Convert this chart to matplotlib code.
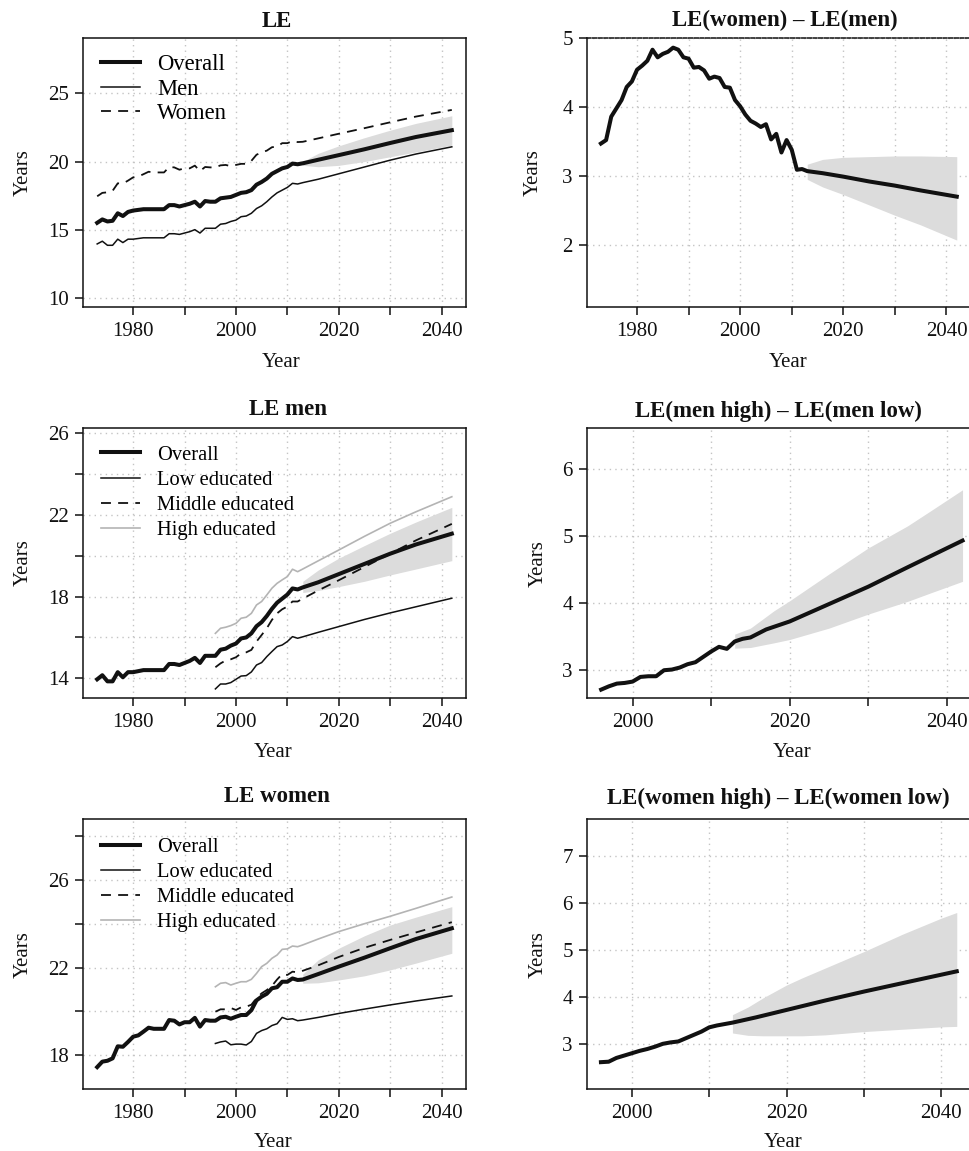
import matplotlib
matplotlib.use("Agg")
import matplotlib.pyplot as plt

plt.rcParams["font.family"] = ["Liberation Serif", "DejaVu Serif"]

# ---------------- data ----------------
years_hist = list(range(1973, 2013))
years_edu = list(range(1996, 2013))
years_proj = [2013, 2016, 2020, 2025, 2030, 2035, 2042]

# LE overall / men / women, 1973-2012
le_all_hist = [15.5, 15.75, 15.6, 15.65, 16.2, 16.0, 16.3, 16.4, 16.45, 16.5,
               16.5, 16.5, 16.5, 16.5, 16.8, 16.8, 16.7, 16.8, 16.9, 17.05,
               16.7, 17.1, 17.05, 17.05, 17.3, 17.35, 17.4, 17.55, 17.7, 17.75,
               17.9, 18.3, 18.5, 18.75, 19.1, 19.3, 19.5, 19.6, 19.85, 19.8]
le_men_hist = [13.95, 14.15, 13.85, 13.85, 14.3, 14.05, 14.3, 14.3, 14.35, 14.4,
               14.4, 14.4, 14.4, 14.4, 14.7, 14.7, 14.65, 14.75, 14.85, 15.0,
               14.75, 15.1, 15.1, 15.1, 15.4, 15.45, 15.6, 15.7, 15.95, 16.0,
               16.2, 16.55, 16.75, 17.05, 17.4, 17.7, 17.9, 18.1, 18.4, 18.35]
le_women_hist = [17.45, 17.7, 17.74, 17.85, 18.4, 18.38, 18.6, 18.84, 18.9, 19.07,
                 19.25, 19.2, 19.2, 19.2, 19.6, 19.57, 19.4, 19.5, 19.5, 19.7,
                 19.3, 19.6, 19.57, 19.57, 19.72, 19.75, 19.66, 19.75, 19.83, 19.83,
                 20.05, 20.5, 20.67, 20.8, 21.05, 21.1, 21.35, 21.35, 21.5, 21.43]

# projections 2013-2042
le_all_proj = [19.87, 20.13, 20.47, 20.9, 21.36, 21.8, 22.3]
le_all_lo = [19.72, 19.62, 19.72, 20.0, 20.35, 20.7, 21.2]
le_all_hi = [20.0, 20.6, 21.15, 21.75, 22.3, 22.8, 23.36]
le_men_proj = [18.45, 18.7, 19.1, 19.6, 20.1, 20.55, 21.08]
le_men_lo = [18.2, 18.3, 18.49, 18.75, 19.06, 19.35, 19.76]
le_men_hi = [18.75, 19.3, 19.88, 20.5, 21.1, 21.65, 22.37]
le_women_proj = [21.45, 21.7, 22.04, 22.45, 22.88, 23.3, 23.79]
le_women_lo = [21.28, 21.3, 21.43, 21.62, 21.89, 22.2, 22.65]
le_women_hi = [21.7, 22.35, 22.88, 23.45, 23.94, 24.3, 24.78]

# LE(women) - LE(men)
gap_sex_hist = [3.47, 3.52, 3.86, 3.98, 4.1, 4.29, 4.37, 4.54, 4.6, 4.67,
                4.83, 4.72, 4.77, 4.8, 4.86, 4.83, 4.72, 4.7, 4.57, 4.58,
                4.53, 4.41, 4.44, 4.42, 4.29, 4.28, 4.1, 4.01, 3.89, 3.8,
                3.76, 3.71, 3.75, 3.53, 3.61, 3.34, 3.52, 3.38, 3.09, 3.1]
gap_sex_proj = [3.07, 3.04, 2.99, 2.92, 2.86, 2.79, 2.7]
gap_sex_lo = [2.95, 2.84, 2.73, 2.58, 2.43, 2.29, 2.07]
gap_sex_hi = [3.17, 3.24, 3.27, 3.28, 3.29, 3.29, 3.28]

# men by education, 1996-2012
men_low_hist = [13.48, 13.72, 13.72, 13.79, 13.95, 14.11, 14.13, 14.31, 14.65,
                14.77, 15.06, 15.31, 15.55, 15.63, 15.8, 16.04, 15.96]
men_mid_hist = [14.54, 14.73, 14.87, 14.93, 15.03, 15.22, 15.27, 15.39, 15.8,
                16.12, 16.45, 16.86, 17.18, 17.38, 17.51, 17.76, 17.76]
men_high_hist = [16.2, 16.45, 16.5, 16.58, 16.69, 16.94, 16.99, 17.18, 17.59,
                 17.76, 18.08, 18.41, 18.65, 18.82, 18.98, 19.34, 19.22]
men_low_proj = [16.03, 16.25, 16.53, 16.88, 17.2, 17.5, 17.92]
men_mid_proj = [17.9, 18.3, 18.8, 19.45, 20.1, 20.75, 21.56]
men_high_proj = [19.35, 19.75, 20.28, 20.95, 21.59, 22.15, 22.89]

# women by education, 1996-2012
women_low_hist = [18.53, 18.6, 18.64, 18.47, 18.5, 18.5, 18.46, 18.62, 18.99,
                  19.12, 19.2, 19.35, 19.43, 19.72, 19.63, 19.66, 19.57]
women_mid_hist = [19.98, 20.09, 20.09, 20.15, 20.06, 20.18, 20.21, 20.3, 20.6,
                  20.82, 20.97, 21.16, 21.45, 21.7, 21.66, 21.81, 21.78]
women_high_hist = [21.12, 21.28, 21.31, 21.2, 21.28, 21.35, 21.35, 21.46, 21.73,
                   22.04, 22.19, 22.42, 22.57, 22.83, 22.85, 22.98, 22.95]
women_low_proj = [19.6, 19.72, 19.9, 20.1, 20.29, 20.47, 20.7]
women_mid_proj = [21.85, 22.1, 22.48, 22.9, 23.26, 23.6, 24.07]
women_high_proj = [23.03, 23.3, 23.64, 24.0, 24.34, 24.7, 25.22]

# LE(men high) - LE(men low)
gap_men_years = list(range(1996, 2019)) + [2020, 2025, 2030, 2035, 2042]
gap_men = [2.70, 2.75, 2.79, 2.80, 2.82, 2.89, 2.90, 2.90, 2.99, 3.00, 3.03,
           3.08, 3.11, 3.19, 3.27, 3.34, 3.31, 3.42, 3.46, 3.48, 3.54, 3.60,
           3.64, 3.72, 3.98, 4.24, 4.53, 4.93]
gap_men_band_years = [2013, 2015, 2018, 2020, 2025, 2030, 2035, 2038, 2042]
gap_men_lo = [3.32, 3.33, 3.40, 3.45, 3.62, 3.83, 4.02, 4.15, 4.32]
gap_men_hi = [3.53, 3.62, 3.88, 4.03, 4.43, 4.82, 5.15, 5.38, 5.69]

# LE(women high) - LE(women low)
gap_women_hist = [2.61, 2.62, 2.70, 2.75, 2.80, 2.85, 2.89, 2.94, 3.00, 3.03,
                  3.05, 3.12, 3.19, 3.26, 3.35, 3.39, 3.42]
gap_women_proj = [3.45, 3.56, 3.72, 3.92, 4.11, 4.29, 4.54]
gap_women_band_years = [2013, 2015, 2017, 2020, 2022, 2025, 2030, 2035, 2040, 2042]
gap_women_lo = [3.23, 3.18, 3.17, 3.17, 3.17, 3.19, 3.26, 3.31, 3.36, 3.37]
gap_women_hi = [3.62, 3.78, 3.98, 4.25, 4.4, 4.61, 4.96, 5.33, 5.67, 5.79]

# ---------------- styles ----------------
BAND = "#dcdcdc"
GREY = "#b4b4b4"
GRID = "#c4c4c4"
INK = "#111111"
THICK = 2.9
THIN = 1.1
DASH = (0, (5.5, 4))
FS = 15
FS_TITLE = 16.5

W, H = 969, 1151
fig = plt.figure(figsize=(W / 100, H / 100), dpi=100)


def add_axes(left, top, right, bottom):
    return fig.add_axes([left / W, 1 - bottom / H, (right - left) / W, (bottom - top) / H])


def style(ax, xlim, ylim, xticks, xlabels, yticks, ylabels,
          title, tx, ty, xl, yl_x, xl_y):
    ax.set_xlim(xlim)
    ax.set_ylim(ylim)
    ax.set_xticks(xticks)
    ax.set_xticklabels(xlabels)
    ax.set_yticks(yticks)
    ax.set_yticklabels(ylabels)
    ax.grid(True, color=GRID, linestyle=(0, (1, 3)), linewidth=1.0)
    ax.set_axisbelow(True)
    ax.tick_params(direction="out", length=6, width=1.1, labelsize=FS, colors=INK)
    ax.tick_params(axis="x", pad=4.5)
    ax.tick_params(axis="y", pad=4)
    for s in ax.spines.values():
        s.set_linewidth(1.1)
        s.set_color(INK)
    ax.text(tx, ty, title, transform=ax.transAxes, ha="center", va="baseline",
            fontsize=FS_TITLE, fontweight="bold", color=INK)
    ax.set_xlabel("Year", fontsize=FS, color=INK)
    ax.set_ylabel("Years", fontsize=FS, color=INK)
    ax.xaxis.set_label_coords(xl, xl_y)
    ax.yaxis.set_label_coords(yl_x, 0.5)


dec_full = [1980, 1990, 2000, 2010, 2020, 2030, 2040]
dec_full_lab = ["1980", "", "2000", "", "2020", "", "2040"]
dec_edu = [2000, 2010, 2020, 2030, 2040]
dec_edu_lab = ["2000", "", "2020", "", "2040"]

# ---------------- panel 1: LE ----------------
ax1 = add_axes(83, 38, 466, 307)
ax1.fill_between(years_proj, le_all_lo, le_all_hi, color=BAND, lw=0)
l_all, = ax1.plot(years_hist + years_proj, le_all_hist + le_all_proj, color=INK, lw=THICK)
l_men, = ax1.plot(years_hist + years_proj, le_men_hist + le_men_proj, color=INK, lw=THIN)
l_wom, = ax1.plot(years_hist + years_proj, le_women_hist + le_women_proj, color=INK,
                  lw=1.3, linestyle=DASH)
style(ax1, (1970.24, 2044.76), (9.32, 29.07), dec_full, dec_full_lab,
      [10, 15, 20, 25], ["10", "15", "20", "25"],
      "LE", 0.5065, 1.041, 0.516, -0.132, -0.172)
ax1.legend([l_all, l_men, l_wom], ["Overall", "Men", "Women"], loc="upper left",
           bbox_to_anchor=(0.047, 0.94), frameon=False, fontsize=16.3,
           borderpad=0, borderaxespad=0, handlelength=1.73, handletextpad=0.75,
           labelspacing=0.16)

# ---------------- panel 2: LE(women) - LE(men) ----------------
ax2 = add_axes(586.7, 38, 971, 307)
ax2.fill_between(years_proj, gap_sex_lo, gap_sex_hi, color=BAND, lw=0)
ax2.plot(years_hist + years_proj, gap_sex_hist + gap_sex_proj, color=INK, lw=THICK)
style(ax2, (1970.24, 2044.76), (1.1, 5.0), dec_full, dec_full_lab,
      [2, 3, 4, 5], ["2", "3", "4", "5"],
      "LE(women) \u2013 LE(men)", 0.516, 1.045, 0.5246, -0.114, -0.172)
ax2.spines["top"].set_linestyle((0, (2.5, 1.2)))

# ---------------- panel 3: LE men ----------------
ax3 = add_axes(83, 427.7, 466, 698.3)
ax3.fill_between(years_proj, le_men_lo, le_men_hi, color=BAND, lw=0)
m_all, = ax3.plot(years_hist + years_proj, le_men_hist + le_men_proj, color=INK, lw=THICK)
m_low, = ax3.plot(years_edu + years_proj, men_low_hist + men_low_proj, color=INK, lw=THIN)
m_mid, = ax3.plot(years_edu + years_proj, men_mid_hist + men_mid_proj, color=INK,
                  lw=1.3, linestyle=DASH)
m_high, = ax3.plot(years_edu + years_proj, men_high_hist + men_high_proj, color=GREY, lw=1.2)
style(ax3, (1970.24, 2044.76), (13.02, 26.27), dec_full, dec_full_lab,
      [14, 16, 18, 20, 22, 24, 26], ["14", "", "18", "", "22", "", "26"],
      "LE men", 0.534, 1.047, 0.497, -0.132, -0.164)
edu_labels = ["Overall", "Low educated", "Middle educated", "High educated"]
ax3.legend([m_all, m_low, m_mid, m_high], edu_labels, loc="upper left",
           bbox_to_anchor=(0.047, 0.935), frameon=False, fontsize=14.8,
           borderpad=0, borderaxespad=0, handlelength=1.9, handletextpad=0.83,
           labelspacing=0.28)

# ---------------- panel 4: LE(men high) - LE(men low) ----------------
ax4 = add_axes(586.7, 428.3, 977, 698.3)
ax4.fill_between(gap_men_band_years, gap_men_lo, gap_men_hi, color=BAND, lw=0)
ax4.plot(gap_men_years, gap_men, color=INK, lw=THICK)
style(ax4, (1994.16, 2043.84), (2.57, 6.61), dec_edu, dec_edu_lab,
      [3, 4, 5, 6], ["3", "4", "5", "6"],
      "LE(men high) \u2013 LE(men low)", 0.4905, 1.043, 0.5256, -0.101, -0.167)

# ---------------- panel 5: LE women ----------------
ax5 = add_axes(83, 819.3, 466, 1089)
ax5.fill_between(years_proj, le_women_lo, le_women_hi, color=BAND, lw=0)
w_all, = ax5.plot(years_hist + years_proj, le_women_hist + le_women_proj, color=INK, lw=THICK)
w_low, = ax5.plot(years_edu + years_proj, women_low_hist + women_low_proj, color=INK, lw=THIN)
w_mid, = ax5.plot(years_edu + years_proj, women_mid_hist + women_mid_proj, color=INK,
                  lw=1.3, linestyle=DASH)
w_high, = ax5.plot(years_edu + years_proj, women_high_hist + women_high_proj, color=GREY, lw=1.2)
style(ax5, (1970.24, 2044.76), (16.45, 28.77), dec_full, dec_full_lab,
      [18, 20, 22, 24, 26, 28], ["18", "", "22", "", "26", ""],
      "LE women", 0.506, 1.064, 0.497, -0.132, -0.164)
ax5.legend([w_all, w_low, w_mid, w_high], edu_labels, loc="upper left",
           bbox_to_anchor=(0.047, 0.933), frameon=False, fontsize=14.8,
           borderpad=0, borderaxespad=0, handlelength=1.9, handletextpad=0.83,
           labelspacing=0.28)

# ---------------- panel 6: LE(women high) - LE(women low) ----------------
ax6 = add_axes(586.7, 819.3, 971, 1089)
ax6.fill_between(gap_women_band_years, gap_women_lo, gap_women_hi, color=BAND, lw=0)
ax6.plot(years_edu + years_proj, gap_women_hist + gap_women_proj, color=INK, lw=THICK)
style(ax6, (1994.16, 2043.84), (2.04, 7.77), dec_edu, dec_edu_lab,
      [3, 4, 5, 6, 7], ["3", "4", "5", "6", "7"],
      "LE(women high) \u2013 LE(women low)", 0.498, 1.056, 0.5116, -0.101, -0.164)

fig.savefig("out.png", dpi=100)
